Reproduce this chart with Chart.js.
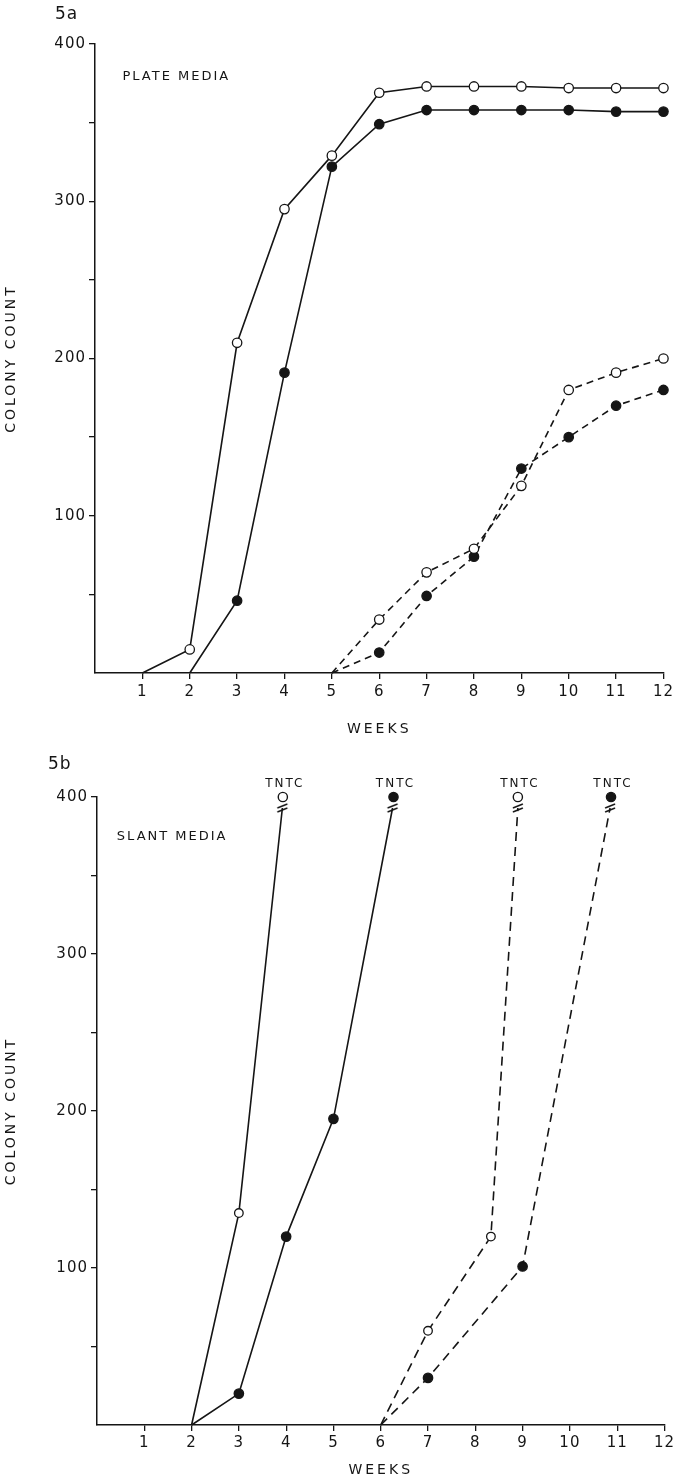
<!DOCTYPE html>
<html><head><meta charset="utf-8">
<script src="https://cdn.jsdelivr.net/npm/chart.js@4.4.1/dist/chart.umd.min.js"></script>
<style>
html,body{margin:0;padding:0;background:#fff;}
#wrap{position:relative;width:677px;height:1481px;overflow:hidden;background:#fff;}
canvas{position:absolute;left:0;}
#c1{top:0;} #c2{top:745px;}
</style></head><body>
<div id="wrap"><canvas id="c1" width="677" height="745"></canvas><canvas id="c2" width="677" height="736"></canvas></div>
<script>
// ---------------- data ----------------
const weekTicks = [1,2,3,4,5,6,7,8,9,10,11,12];
const countTicks = [100,200,300,400];

// 5a  PLATE MEDIA
const plateOpenSolidWeeks   = [1,2,3,4,5,6,7,8,9,10,11,12];
const plateOpenSolid        = [0,15,210,295,329,369,373,373,373,372,372,372];
const plateFilledSolidWeeks = [2,3,4,5,6,7,8,9,10,11,12];
const plateFilledSolid      = [0,46,191,322,349,358,358,358,358,357,357];
const plateDashedWeeks      = [5,6,7,8,9,10,11,12];
const plateOpenDashed       = [0,34,64,79,119,180,191,200];
const plateFilledDashed     = [0,13,49,74,130,150,170,180];

// 5b  SLANT MEDIA (last value of each line = broken axis just under TNTC)
const slantOpenSolidWeeks    = [2,3,3.92];
const slantOpenSolid         = [0,135,393];
const slantFilledSolidWeeks  = [2,3,4,5,6.25];
const slantFilledSolid       = [0,20,120,195,393];
const slantOpenDashedWeeks   = [6,7,8.33,8.9];
const slantOpenDashed        = [0,60,120,393];
const slantFilledDashedWeeks = [6,7,9,10.85];
const slantFilledDashed      = [0,30,101,393];
const tntcOpenWeeks   = [3.93, 8.9];
const tntcFilledWeeks = [6.27, 10.87];
const tntcValue = 400;

// ---------------- helpers ----------------
const INK = '#151515';
const breakImg = document.createElement('canvas');
breakImg.width = 14; breakImg.height = 12;
(function(){
  const b = breakImg.getContext('2d');
  b.strokeStyle = INK; b.lineWidth = 1.4;
  b.beginPath(); b.moveTo(2,6); b.lineTo(12,2); b.moveTo(2,10); b.lineTo(12,6); b.stroke();
})();

function pts(xs, ys){ return xs.map((x,i)=>({x:x, y:ys[i]})); }
function series(xs, ys, o){
  const n = xs.length;
  return {
    data: pts(xs, ys),
    borderColor: INK, borderWidth: 1.6, borderDash: o.dash || [],
    fill: false, tension: 0, clip: false,
    pointStyle: xs.map((x,i)=> (o.brk && i===n-1) ? breakImg : 'circle'),
    pointRadius: ys.map((y,i)=> (o.brk && i===n-1) ? 6 : (y===0 ? 0 : (o.r||4.7))),
    pointBackgroundColor: o.open ? '#fff' : INK,
    pointBorderColor: INK, pointBorderWidth: 1.3
  };
}
function tntc(xs, open){
  return {
    data: xs.map(x=>({x:x, y:tntcValue})), showLine:false, clip:false, tntc:true,
    pointRadius: 4.6, pointBackgroundColor: open ? '#fff' : INK,
    pointBorderColor: INK, pointBorderWidth: 1.4
  };
}

const annotate = {
  id: 'annot',
  beforeDraw(chart){
    for (const s of Object.values(chart.scales)) {
      if (s._lsPatched) continue; s._lsPatched = true;
      const dt = s.drawTitle, dl = s.drawLabels;
      s.drawTitle = function(){ const c=this.ctx, p=c.letterSpacing; c.letterSpacing='3px'; dt.apply(this, arguments); c.letterSpacing=p; };
      s.drawLabels = function(){ const c=this.ctx, p=c.letterSpacing; c.letterSpacing='1px'; dl.apply(this, arguments); c.letterSpacing=p; };
    }
  },
  afterDraw(chart, args, opts){
    const {ctx, chartArea} = chart;
    const x = chart.scales.x, y = chart.scales.y;
    ctx.save();
    ctx.fillStyle = INK; ctx.textBaseline = 'middle';
    ctx.textAlign = 'left';
    ctx.font = '17px "DejaVu Sans"'; ctx.letterSpacing = '1px';
    ctx.fillText(opts.panel, chartArea.left + opts.panelDx, chartArea.top + opts.panelDy);
    ctx.font = '13px "DejaVu Sans"'; ctx.letterSpacing = '2px';
    ctx.fillText(opts.media, x.getPixelForValue(opts.mediaAt[0]), y.getPixelForValue(opts.mediaAt[1]));
    ctx.textAlign = 'center'; ctx.font = '12px "DejaVu Sans"'; ctx.letterSpacing = '2px';
    chart.data.datasets.forEach((ds,i)=>{
      if (!ds.tntc) return;
      chart.getDatasetMeta(i).data.forEach(p=>{ ctx.fillText('TNTC', p.x + 2, p.y - 13); });
    });
    ctx.restore();
  }
};

function makeChart(id, cfg){
  const tickColor = c => (c.tick && c.tick.value === 0) ? 'rgba(0,0,0,0)' : INK;
  return new Chart(document.getElementById(id), {
    type: 'line',
    data: { datasets: cfg.datasets },
    options: {
      responsive: false, animation: false, events: [],
      layout: { padding: { top: cfg.top, right: 9, left: 0, bottom: 0 } },
      plugins: { legend: {display:false}, tooltip: {enabled:false}, annot: cfg.annot },
      scales: {
        x: {
          type: 'linear', min: 0, max: 12,
          afterFit: s => { s.height = cfg.xh; },
          ticks: { stepSize: 1, autoSkip: false, maxRotation: 0, padding: cfg.xpad, color: INK,
                   font: {family: 'DejaVu Sans', size: 15},
                   callback: v => weekTicks.includes(v) ? String(v) : '' },
          grid: { drawOnChartArea: false, tickLength: 6, lineWidth: 1.3, color: tickColor },
          border: { display: true, color: INK, width: 1.5 },
          title: { display: true, text: 'WEEKS', color: INK, font: {family: 'DejaVu Sans', size: 14},
                   padding: {top: 0, bottom: cfg.wpad} }
        },
        y: {
          type: 'linear', min: 0, max: 400,
          afterFit: s => { s.width = cfg.left; },
          ticks: { stepSize: 50, autoSkip: false, padding: 3, color: INK,
                   font: {family: 'DejaVu Sans', size: 15},
                   callback: v => countTicks.includes(v) ? String(v) : '' },
          grid: { drawOnChartArea: false, tickLength: 6, lineWidth: 1.3, color: tickColor },
          border: { display: true, color: INK, width: 1.5 },
          title: { display: true, text: 'COLONY COUNT', color: INK, font: {family: 'DejaVu Sans', size: 14},
                   padding: {top: 3, bottom: 0} }
        }
      }
    },
    plugins: [annotate]
  });
}

makeChart('c1', {
  top: 44, left: 95, xh: 72, xpad: 4, wpad: 7,
  annot: { panel: '5a', panelDx: -40, panelDy: -29, media: 'PLATE MEDIA', mediaAt: [0.58, 379] },
  datasets: [
    series(plateOpenSolidWeeks, plateOpenSolid, {open: true}),
    series(plateFilledSolidWeeks, plateFilledSolid, {open: false}),
    series(plateDashedWeeks, plateOpenDashed, {open: true, dash: [7,5]}),
    series(plateDashedWeeks, plateFilledDashed, {open: false, dash: [7,5]})
  ]
});

makeChart('c2', {
  top: 52, left: 97, xh: 56, xpad: 3, wpad: 2,
  annot: { panel: '5b', panelDx: -49, panelDy: -32, media: 'SLANT MEDIA', mediaAt: [0.42, 375] },
  datasets: [
    series(slantOpenSolidWeeks, slantOpenSolid, {open: true, brk: true, r: 4.3}),
    series(slantFilledSolidWeeks, slantFilledSolid, {open: false, brk: true}),
    series(slantOpenDashedWeeks, slantOpenDashed, {open: true, brk: true, dash: [9,6], r: 4.3}),
    series(slantFilledDashedWeeks, slantFilledDashed, {open: false, brk: true, dash: [9,6]}),
    tntc(tntcOpenWeeks, true),
    tntc(tntcFilledWeeks, false)
  ]
});
</script>
</body></html>
